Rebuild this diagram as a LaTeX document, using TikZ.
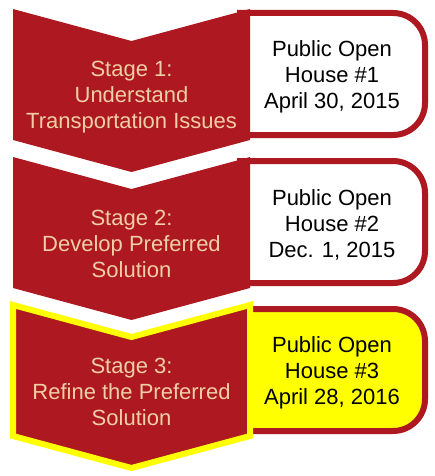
\documentclass[tikz,border=0pt]{standalone}
\usepackage{fontspec}
\setmainfont{Liberation Sans}
\definecolor{chevred}{RGB}{174,24,32}
\definecolor{chevtext}{RGB}{240,206,166}
\definecolor{hiyellow}{RGB}{255,255,0}
\tikzset{
  chevshape/.style={fill=chevred},
  chevhl/.style={fill=chevred, draw=hiyellow, line width=6pt, line join=miter},
  boxshape/.style={draw=chevred, line width=6pt, fill=white},
  boxhl/.style={boxshape, fill=hiyellow},
  chevlabel/.style={text=chevtext, align=center, font=\fontsize{22}{26}\selectfont, inner sep=0pt},
  boxlabel/.style={text=black, align=center, font=\fontsize{22}{26}\selectfont, inner sep=0pt}
}
\begin{document}
\begin{tikzpicture}[x=1pt,y=-1pt]
\useasboundingbox (0,0) rectangle (434,476);
% Stage 1
\draw[boxshape] (240,13) -- (393,13) .. controls (410.7,13) and (425,27.3) .. (425,45)
  -- (425,103) .. controls (425,120.7) and (410.7,135) .. (393,135) -- (240,135) -- cycle;
\fill[chevshape] (13,9) -- (131.5,41) -- (250,9) -- (250,140) -- (131.5,172) -- (13,140) -- cycle;
\node[chevlabel] (s1) at (131.5,97.3) {Stage 1:\\Understand\\Transportation Issues};
\node[boxlabel] (h1) at (332,77.3) {Public Open\\House \#1\\April 30, 2015};
% Stage 2
\draw[boxshape] (240,161) -- (393,161) .. controls (410.7,161) and (425,175.3) .. (425,193)
  -- (425,251) .. controls (425,268.7) and (410.7,283) .. (393,283) -- (240,283) -- cycle;
\fill[chevshape] (13,157) -- (131.5,189) -- (250,157) -- (250,288) -- (131.5,320) -- (13,288) -- cycle;
\node[chevlabel] (s2) at (131.5,243.5) {Stage 2:\\Develop Preferred\\Solution};
\node[boxlabel] (h2) at (332,224.6) {Public Open\\House \#2\\Dec. 1, 2015};
% Stage 3
\draw[boxhl] (240,309) -- (393,309) .. controls (410.7,309) and (425,323.3) .. (425,341)
  -- (425,399) .. controls (425,416.7) and (410.7,431) .. (393,431) -- (240,431) -- cycle;
\draw[chevhl] (13,305) -- (131.5,337) -- (250,305) -- (250,436) -- (131.5,468) -- (13,436) -- cycle;
\node[chevlabel] (s3) at (131.5,391.5) {Stage 3:\\Refine the Preferred\\Solution};
\node[boxlabel] (h3) at (332,373.3) {Public Open\\House \#3\\April 28, 2016};
\end{tikzpicture}
\end{document}
